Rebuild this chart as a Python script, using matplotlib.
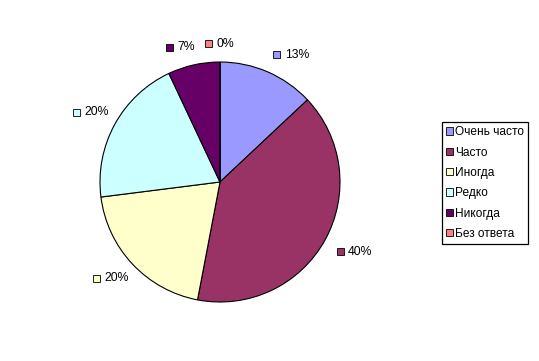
import matplotlib.pyplot as plt
import numpy as np
from matplotlib.patches import Rectangle

plt.rcParams["font.family"] = ["Liberation Sans", "DejaVu Sans"]

categories = ["Очень часто", "Часто", "Иногда", "Редко", "Никогда", "Без ответа"]
values = [13, 40, 20, 20, 7, 0]
colors = ["#9999FF", "#993366", "#FFFFCC", "#CCFFFF", "#660066", "#FF8080"]

W, H = 539, 361
fig = plt.figure(figsize=(W / 100, H / 100), dpi=100)

# pie centre at (220, 182) px, radius 120 px
cx, cy, half = 220, 182, 150
ax = fig.add_axes([(cx - half) / W, (H - cy - half) / H, 2 * half / W, 2 * half / H])
ax.axis("off")

wedges, _ = ax.pie(values, colors=colors, startangle=90, counterclock=False,
                   radius=1.0, wedgeprops=dict(edgecolor="black", linewidth=0.8))
ax.set_xlim(-1.25, 1.25)
ax.set_ylim(-1.25, 1.25)

# data labels, Excel-like: small legend key + percentage
total = sum(values)
cum = 0.0
px = 1 / 120.0
for val, col in zip(values, colors):
    mid = 90 - 360 * (cum + val / 2) / total
    cum += val
    a = np.deg2rad(mid)
    c, s = np.cos(a), np.sin(a)
    x = 1.1 * c + 16 * px * np.sign(c) * min(1.0, abs(c) * 3)
    y = 1.1 * s + 6 * px * np.sign(s)
    ax.add_patch(Rectangle((x - 15 * px, y - 3.5 * px), 7 * px, 7 * px,
                           facecolor=col, edgecolor="black", linewidth=0.6, clip_on=False))
    ax.text(x - 3.5 * px, y, f"{val}%", ha="left", va="center", fontsize=8.8)

handles = [Rectangle((0, 0), 1, 1, facecolor=c, edgecolor="black", linewidth=0.6) for c in colors]
leg = fig.legend(handles, categories, loc="upper left",
                 bbox_to_anchor=(442 / W, 1 - 122 / H), fontsize=8.6,
                 frameon=True, fancybox=False, framealpha=1, edgecolor="black",
                 handlelength=0.55, handleheight=0.55, handletextpad=0.2,
                 labelspacing=0.7, borderpad=0.35, borderaxespad=0)
leg.get_frame().set_linewidth(0.9)

fig.savefig("out.png", dpi=100)
